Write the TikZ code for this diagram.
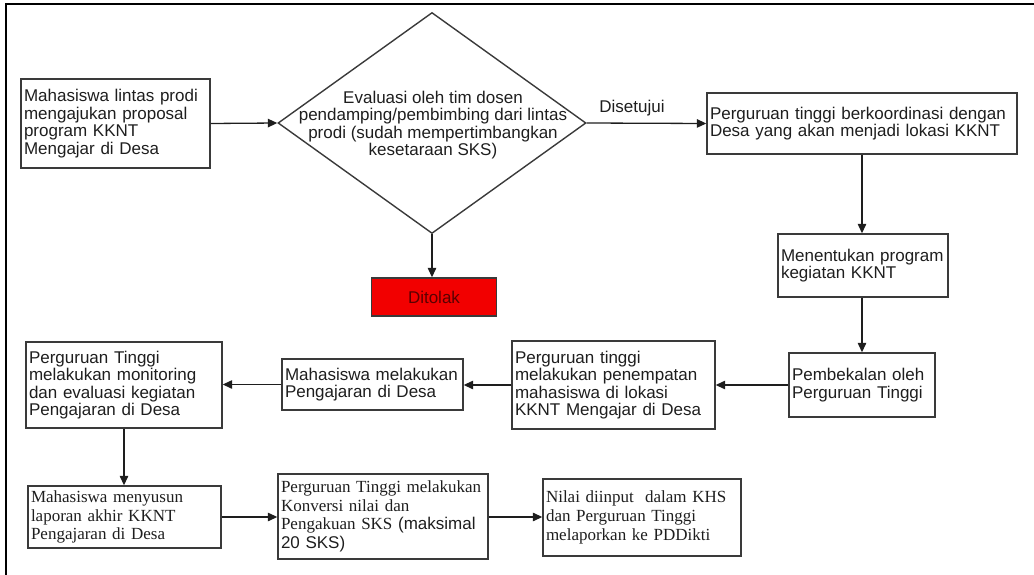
\documentclass[tikz,border=0pt]{standalone}
\usepackage{fontspec}
\setmainfont{Liberation Sans}
\newfontfamily\tnr{Liberation Serif}
\newfontfamily\arial{Liberation Sans}
\usetikzlibrary{shapes.geometric,arrows.meta}
\definecolor{ink}{HTML}{1E1E1E}
\definecolor{edge}{HTML}{3A3A3A}
\definecolor{rejectred}{HTML}{F20000}
\definecolor{rejecttext}{HTML}{5A0000}
\begin{document}
\begin{tikzpicture}[x=1pt,y=-1pt,
  every node/.style={text=ink},
  sans/.style={font=\fontsize{17}{17.5}\selectfont},
  serif/.style={font=\tnr\fontsize{17}{18.6}\selectfont},
  stepbox/.style={draw=edge, line width=1.4pt, rectangle, inner xsep=3pt, inner ysep=2pt, align=left, anchor=center},
  flow/.style={draw=ink, line width=1.3pt, -{Triangle[length=9.5pt,width=8.5pt]}},
]
\useasboundingbox (0,0) rectangle (1034,575);

% page frame (top and left rules)
\draw[line width=2pt] (6,575) -- (6,4) -- (1034,4);

% proposal and evaluation
\node[stepbox, sans, text width=183pt, minimum height=89pt] (b1) at (115.5,123.5)
  {Mahasiswa lintas prodi\\mengajukan proposal\\program KKNT\\Mengajar di Desa};
\node[draw=edge, line width=1.4pt, diamond, minimum width=308pt, minimum height=221pt, inner sep=0pt] (d) at (432,123) {};
\node[sans, align=center] (dt) at (433,125)
  {Evaluasi oleh tim dosen\\pendamping/pembimbing dari lintas\\prodi (sudah mempertimbangkan\\kesetaraan SKS)};
\node[draw=edge, fill=rejectred, line width=1.4pt, minimum width=125pt, minimum height=38pt,
  text=rejecttext, font=\fontsize{17}{17.5}\selectfont] (no) at (434,297) {Ditolak};
\node[sans] (ok) at (632,108) {Disetujui};

% preparation on the right
\node[stepbox, sans, text width=304pt, minimum height=61pt] (b2) at (862,123.5)
  {Perguruan tinggi berkoordinasi dengan\\Desa yang akan menjadi lokasi KKNT};
\node[stepbox, sans, text width=164pt, minimum height=63pt] (b3) at (863,265.5)
  {Menentukan program\\kegiatan KKNT};
\node[stepbox, sans, text width=140pt, minimum height=64pt] (b4) at (862,385)
  {Pembekalan oleh\\Perguruan Tinggi};

% placement and teaching
\node[stepbox, sans, text width=197pt, minimum height=88pt] (b5) at (613.5,385)
  {Perguruan tinggi\\melakukan penempatan\\mahasiswa di lokasi\\KKNT Mengajar di Desa};
\node[stepbox, sans, text width=175pt, minimum height=51pt] (b6) at (372.5,384.5)
  {Mahasiswa melakukan\\Pengajaran di Desa};
\node[stepbox, sans, text width=190pt, minimum height=86pt] (b7) at (124,385)
  {Perguruan Tinggi\\melakukan monitoring\\dan evaluasi kegiatan\\Pengajaran di Desa};

% reporting and conversion
\node[stepbox, serif, text width=187pt, minimum height=62pt] (b8) at (124.5,517)
  {Mahasiswa menyusun\\laporan akhir KKNT\\Pengajaran di Desa};
\node[stepbox, serif, text width=204pt, minimum height=85pt] (b9) at (383,516.5)
  {\tnr Perguruan Tinggi melakukan\\\tnr Konversi nilai dan\\\tnr Pengakuan SKS \arial(maksimal\\\arial 20 SKS)};
\node[stepbox, serif, text width=192pt, minimum height=77pt] (b10) at (642,517.5)
  {Nilai diinput\ \ dalam KHS\\dan Perguruan Tinggi\\melaporkan ke PDDikti};

% connectors
\draw[flow] (b1.east) -- (d.west);
\draw[flow] (d.east) -- (b2.west);
\draw[flow] (d.south) -- (no.north -| d.south);
\draw[flow] (b2.south) -- (b2.south |- b3.north);
\draw[flow] (b3.south -| b2.south) -- (b2.south |- b4.north);
\draw[flow] (b4.west) -- (b4.west -| b5.east);
\draw[flow] (b5.west) -- (b5.west -| b6.east);
\draw[flow] (b6.west) -- (b6.west -| b7.east);
\draw[flow] (b7.south) -- (b7.south |- b8.north);
\draw[flow] (b8.east) -- (b8.east -| b9.west);
\draw[flow] (b9.east |- b8.east) -- (b8.east -| b10.west);
\end{tikzpicture}
\end{document}
